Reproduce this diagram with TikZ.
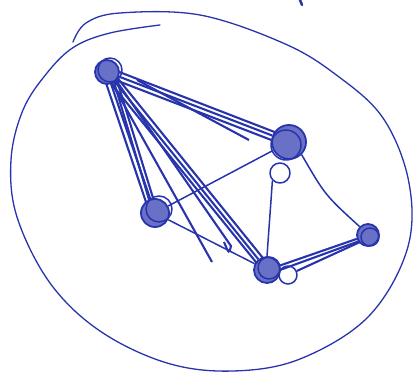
\documentclass[tikz,border=0pt]{standalone}
\usepackage{tikz}
\usetikzlibrary{calc,backgrounds}
\usepackage{xcolor}
\definecolor{inkblue}{RGB}{40,52,172}

\begin{document}
\begin{tikzpicture}[x=1pt,y=-1pt,line cap=round,line join=round,
  pen/.style={inkblue,line width=2.1pt},
  thinpen/.style={inkblue,line width=1.5pt},
  vtx/.style={circle,draw=inkblue,line width=1.8pt,fill=inkblue!70,inner sep=0pt},
  ring/.style={circle,draw=inkblue,line width=1.5pt,inner sep=0pt}]
\useasboundingbox (0,0) rectangle (414,374);
\node[vtx,minimum size=24pt] (A)     at (107,72)  {};
\node[vtx,minimum size=34pt] (B)     at (289,142) {};
\node[ring,minimum size=20pt] (Bl)   at (280,173) {};
\node[vtx,minimum size=28pt] (C)     at (155,213) {};
\node[vtx,minimum size=26pt] (D)     at (267,270) {};
\node[ring,minimum size=18pt] (Dl)   at (288,275) {};
\node[vtx,minimum size=22pt] (E)     at (368,235) {};
\coordinate (t1) at (212,262);
\coordinate (t2) at (231,246);
\coordinate (t3) at (137,80);
\coordinate (t4) at (249,140);
\draw[thinpen,line width=1.3pt] plot[smooth,tension=0.6] coordinates {(73,42) (86,23) (120,13) (200,15) (283,43) (335,74) (383,118) (409,183) (407,250) (368,317) (300,359) (233,371) (167,363) (100,331) (50,283) (17,217) (11,160) (23,110) (47,73) (74,47) (110,33) (160,25)};
\draw[pen,line width=2.5pt] (300,0) -- (302,5);
\begin{scope}[on background layer]
\draw[pen] (A) -- (B);
\draw[pen] ([shift={(-2,4)}]A.center) -- ([shift={(-2,4)}]B.center);
\draw[pen] ([shift={(2,-4)}]A.center) -- ([shift={(1,-4)}]B.center);
\draw[pen] (t3) -- (t4);
\draw[pen] (A) -- (C);
\draw[pen] ([shift={(-4,2)}]A.center) -- ([shift={(-6,-2)}]C.center);
\draw[pen] ([shift={(4,0)}]A.center) -- ([shift={(-2,0)}]C.center);
\draw[pen] ([shift={(8,2)}]A.center) -- ([shift={(2,-2)}]C.center);
\draw[pen] (A) -- (D);
\draw[pen] ([shift={(4,-2)}]A.center) -- ([shift={(4,-2)}]D.center);
\draw[pen] ([shift={(-2,4)}]A.center) -- ([shift={(-3,2)}]D.center);
\draw[pen] ([shift={(2,6)}]A.center) -- (t1);
\draw[pen] ([shift={(6,4)}]A.center) -- (t2) .. controls (229,254) .. (224,242);
\draw[thinpen] (C) -- (B);
\draw[thinpen] (C) -- (D);
\draw[thinpen] (Bl.south west) -- (D.north);
\draw[thinpen] (B.south east) .. controls (325,195) .. (E.north west);
\draw[pen] (D) -- (E);
\draw[pen] ([shift={(2,4)}]D.center) -- ([shift={(-3,4)}]E.center);
\draw[pen] (Dl) -- ([shift={(-8,7)}]E.center);
\end{scope}
\draw[thinpen] ([shift={(3,-2)}]A.center) circle (12);
\draw[thinpen] ([shift={(-3,3)}]B.center) circle (15);
\draw[thinpen] ([shift={(4,-4)}]C.center) circle (13);
\draw[thinpen] ([shift={(2,-2)}]D.center) circle (11);
\draw[thinpen] ([shift={(2,2)}]E.center) circle (9);
\end{tikzpicture}
\end{document}
